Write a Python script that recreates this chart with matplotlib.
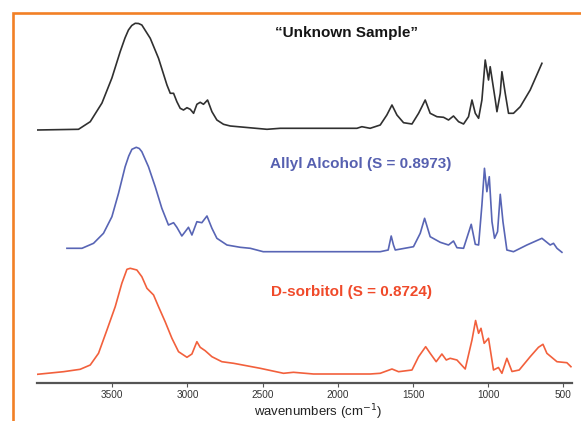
import matplotlib
matplotlib.use("Agg")
from matplotlib import pyplot as plt
from matplotlib.patches import Rectangle

plt.rcParams['font.family'] = ['Liberation Sans', 'DejaVu Sans']

# wavenumbers (cm-1) and relative absorbance
unknown_wn = [4000, 3724, 3646, 3568, 3502, 3447, 3415, 3392, 3370, 3347, 3325, 3303, 3247,
              3192, 3136, 3114, 3092, 3070, 3048, 3026, 3003, 2981, 2959, 2937, 2915, 2893,
              2866, 2837, 2804, 2760, 2715, 2471, 2383, 1873, 1840, 1785, 1718, 1674, 1640,
              1607, 1563, 1507, 1463, 1441, 1419, 1386, 1341, 1297, 1264, 1231, 1197,
              1164, 1131, 1108, 1086, 1064, 1042, 1020, 998, 987, 953, 942, 920, 909,
              887, 865, 832, 787, 721, 643]
unknown_abs = [0.0, 0.007, 0.083, 0.27, 0.52, 0.783, 0.92, 1.0, 1.045, 1.067, 1.065, 1.05,
               0.917, 0.717, 0.45, 0.367, 0.367, 0.283, 0.217, 0.20, 0.223, 0.207, 0.167,
               0.257, 0.277, 0.257, 0.30, 0.183, 0.10, 0.057, 0.04, 0.007, 0.017, 0.017,
               0.033, 0.017, 0.05, 0.15, 0.25, 0.15, 0.073, 0.06, 0.167, 0.233, 0.30, 0.167,
               0.133, 0.127, 0.10, 0.14, 0.083, 0.06, 0.133, 0.30, 0.167, 0.117, 0.30, 0.70,
               0.50, 0.633, 0.30, 0.183, 0.367, 0.583, 0.367, 0.167, 0.167, 0.233, 0.40, 0.667]

allyl_wn = [3801, 3701, 3624, 3558, 3502, 3458, 3414, 3390, 3369, 3340, 3320, 3303, 3259,
            3214, 3170, 3126, 3092, 3070, 3037, 3015, 2993, 2970, 2937, 2904, 2870, 2837,
            2804, 2737, 2649, 2582, 2496, 2383, 1718, 1665, 1645, 1630, 1618, 1497,
            1452, 1423, 1386, 1319, 1264, 1231, 1208, 1164, 1113, 1086, 1064, 1042,
            1025, 1009, 993, 975, 958, 938, 920, 902, 876, 832, 743, 643, 588, 566,
            543, 510]
allyl_abs = [0.037, 0.037, 0.087, 0.187, 0.353, 0.587, 0.853, 0.96, 1.027, 1.047, 1.035, 1.003,
             0.853, 0.653, 0.437, 0.27, 0.293, 0.247, 0.16, 0.203, 0.247, 0.17, 0.303, 0.293,
             0.36, 0.237, 0.137, 0.07, 0.047, 0.037, 0.003, 0.003, 0.003, 0.02, 0.16, 0.07,
             0.02, 0.053, 0.187, 0.337, 0.153, 0.097, 0.07, 0.11, 0.043, 0.037, 0.277, 0.077,
             0.07, 0.47, 0.837, 0.603, 0.753, 0.303, 0.137, 0.203, 0.577, 0.303, 0.02, 0.003,
             0.07, 0.137, 0.07, 0.087, 0.037, -0.003]

sorbitol_wn = [3997, 3824, 3713, 3646, 3591, 3535, 3480, 3436, 3402, 3380, 3336, 3303,
               3269, 3225, 3192, 3148, 3103, 3059, 3003, 2970, 2937, 2915, 2882, 2837,
               2771, 2693, 2516, 2361, 2295, 2162, 1785, 1718, 1640, 1596, 1507, 1463,
               1416, 1386, 1346, 1308, 1279, 1253, 1208, 1153, 1108, 1084, 1064, 1048,
               1027, 998, 965, 932, 909, 876, 842, 794, 721, 666, 636, 610, 543, 477, 450]
sorbitol_abs = [0.007, 0.033, 0.057, 0.10, 0.217, 0.45, 0.683, 0.917, 1.057, 1.067, 1.05, 0.983,
                0.867, 0.80, 0.683, 0.533, 0.367, 0.233, 0.177, 0.21, 0.333, 0.277, 0.243, 0.183,
                0.133, 0.117, 0.067, 0.017, 0.027, 0.01, 0.01, 0.017, 0.06, 0.033, 0.05, 0.183,
                0.283, 0.217, 0.133, 0.21, 0.15, 0.167, 0.15, 0.06, 0.35, 0.545, 0.417, 0.467,
                0.317, 0.367, 0.05, 0.075, 0.017, 0.167, 0.035, 0.05, 0.183, 0.277, 0.307, 0.217,
                0.133, 0.123, 0.083]

labels = ['\u201cUnknown Sample\u201d', 'Allyl Alcohol (S = 0.8973)', 'D-sorbitol (S = 0.8724)']
ticks = [3500, 3000, 2500, 2000, 1500, 1000, 500]

# vertical stacking of the three spectra
offsets = [2.53, 1.31, 0.08]
colors = ['#303030', '#5865B5', '#F2603C']
text_colors = ['#151515', '#5660B0', '#F04A2A']
label_pos = [(2416, 3.50), (2450, 2.19), (2443, 0.91)]

fig = plt.figure(figsize=(5.81, 4.21), dpi=100)
ax = fig.add_axes([37 / 581, 38 / 421, (571.7 - 37) / 581, 368 / 421])

spectra = [(unknown_wn, unknown_abs), (allyl_wn, allyl_abs), (sorbitol_wn, sorbitol_abs)]
for (wn, ab), off, c in zip(spectra, offsets, colors):
    ax.plot(wn, [a + off for a in ab], color=c, lw=1.2, solid_joinstyle='round')

for lab, (x, y), c in zip(labels, label_pos, text_colors):
    ax.text(x, y, lab, color=c, fontsize=11, fontweight='bold', ha='left', va='center')

ax.set_xlim(4000, 445)
ax.set_ylim(0, 3.68)
ax.set_xticks(ticks)
ax.set_xticklabels([str(t) for t in ticks], fontsize=7.2, color='#333333')
ax.set_yticks([])
ax.tick_params(axis='x', direction='out', length=3, width=0.8, color='#555555', pad=2)
for s in ['top', 'right', 'left']:
    ax.spines[s].set_visible(False)
ax.spines['bottom'].set_color('#555555')
ax.spines['bottom'].set_linewidth(1.6)
ax.patch.set_alpha(0)
ax.set_xlabel('wavenumbers (cm$^{-1}$)', fontsize=9.5, color='#222222')
ax.xaxis.set_label_coords(0.525, -0.053)

# orange frame around the panel, running off the right and bottom edges
frame = Rectangle((12.7 / 581, -0.1), 1.2, 1.1 - 12.7 / 421, transform=fig.transFigure,
                  fill=False, edgecolor='#F28025', lw=1.9, zorder=0)
fig.patches.append(frame)

fig.savefig('out.png', dpi=100)
